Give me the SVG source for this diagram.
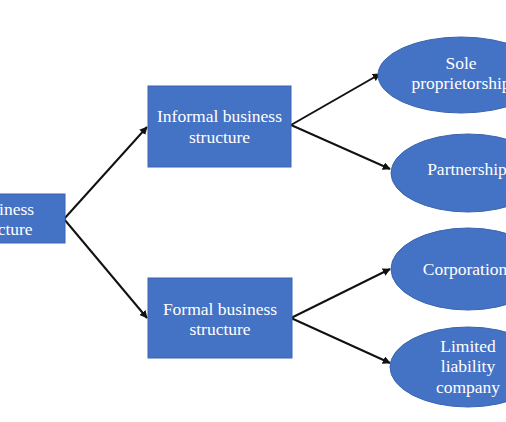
<svg xmlns="http://www.w3.org/2000/svg" width="506" height="422" viewBox="0 0 506 422">
<style>
.box{fill:#4472C4;stroke:#3A64B0;stroke-width:1}
.t{font-family:"Liberation Serif","Times New Roman",serif;font-size:17.500px;fill:#ffffff;text-anchor:middle}
.c{stroke:#111111;stroke-width:2;fill:none;marker-end:url(#ah)}
</style>
<defs>
<marker id="ah" viewBox="0 0 10 10" refX="9" refY="5" markerWidth="4" markerHeight="4" orient="auto" markerUnits="strokeWidth">
<path d="M0,0 L10,5 L0,10 z" fill="#111111"/>
</marker>
</defs>
<rect width="506" height="422" fill="#ffffff"/>
<g id="connectors">
<line class="c" x1="64" y1="219" x2="147" y2="127"/>
<line class="c" x1="64" y1="219" x2="147" y2="318"/>
<line class="c" x1="291" y1="125" x2="380" y2="74"/>
<line class="c" x1="291" y1="125" x2="390" y2="169"/>
<line class="c" x1="291" y1="318" x2="390" y2="269"/>
<line class="c" x1="291" y1="318" x2="390" y2="363"/>
</g>
<g id="business-structure">
<rect class="box" x="-20" y="194" width="85" height="49"/>
<text class="t" x="3" y="215">Business</text>
<text class="t" x="2" y="235">structure</text>
</g>
<g id="informal">
<rect class="box" x="148" y="86" width="143" height="81"/>
<text class="t" x="219.500" y="122">Informal business</text>
<text class="t" x="219.500" y="143">structure</text>
</g>
<g id="formal">
<rect class="box" x="148" y="278" width="144" height="80"/>
<text class="t" x="220" y="315">Formal business</text>
<text class="t" x="220" y="335">structure</text>
</g>
<g id="sole">
<ellipse class="box" cx="461" cy="75" rx="83" ry="38"/>
<text class="t" x="461" y="69">Sole</text>
<text class="t" x="461" y="89">proprietorship</text>
</g>
<g id="partnership">
<ellipse class="box" cx="468" cy="173" rx="77" ry="39"/>
<text class="t" x="467" y="175">Partnership</text>
</g>
<g id="corporation">
<ellipse class="box" cx="468" cy="269" rx="77" ry="41"/>
<text class="t" x="465" y="275">Corporation</text>
</g>
<g id="llc">
<ellipse class="box" cx="468" cy="367" rx="78" ry="40"/>
<text class="t" x="468" y="352">Limited</text>
<text class="t" x="468" y="372">liability</text>
<text class="t" x="468" y="393">company</text>
</g>
</svg>
